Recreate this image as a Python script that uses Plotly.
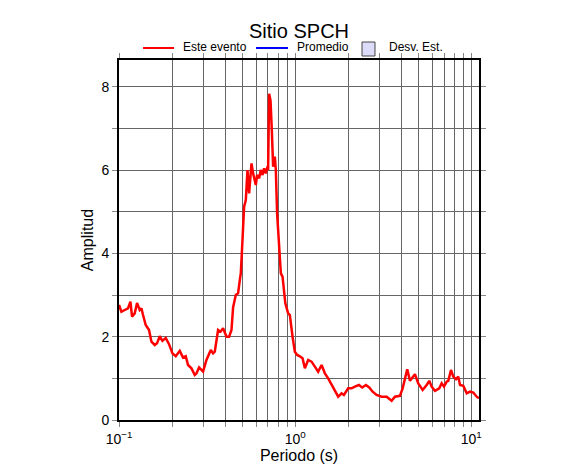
import numpy as np
import plotly.graph_objects as go

# Este evento: period (s) and amplitude
periodo = [0.100, 0.1032, 0.1078, 0.1125, 0.1161, 0.1186, 0.1228, 0.1266, 0.1311, 0.1341,
           0.1369, 0.1418, 0.1481, 0.1528, 0.1596, 0.1644, 0.1703, 0.1764, 0.1842, 0.1923,
           0.2011, 0.2100, 0.2213, 0.2310, 0.2393, 0.2466, 0.2578, 0.2693, 0.2754, 0.2848,
           0.3001, 0.3137, 0.3319, 0.3421, 0.3498, 0.3652, 0.3769, 0.3899, 0.4076, 0.4217,
           0.4351, 0.4443, 0.4603, 0.4743, 0.4851, 0.4915, 0.5024, 0.5131, 0.5247, 0.5364,
           0.5478, 0.5580, 0.5653, 0.5772, 0.5980, 0.6083, 0.6244, 0.6384, 0.6528, 0.6666,
           0.6815, 0.6969, 0.7023, 0.7116, 0.7247, 0.7372, 0.7499, 0.7668, 0.7769, 0.7901,
           0.8111, 0.8294, 0.8480, 0.8660, 0.8797, 0.9125, 0.9330, 0.9665, 0.9961, 1.0266,
           1.0634, 1.1016, 1.1353, 1.1855, 1.2393, 1.2940, 1.3511, 1.4125, 1.4750, 1.5399,
           1.6099, 1.6812, 1.7555, 1.8352, 1.8914, 2.0006, 2.0919, 2.1841, 2.3012, 2.4030,
           2.5217, 2.6332, 2.7530, 2.9007, 3.0968, 3.3064, 3.5295, 3.6857, 3.9346, 4.0756,
           4.2006, 4.3293, 4.4846, 4.6452, 4.7876, 4.9990, 5.2954, 5.5797, 5.7733, 5.9566,
           6.2206, 6.5804, 6.7900, 6.9982, 7.2491, 7.4025, 7.6696, 7.9035, 8.1885, 8.4378,
           8.6285, 9.0090, 9.4195, 9.8311, 10.266, 10.733, 11.06]
amplitud = [2.76, 2.60, 2.64, 2.68, 2.84, 2.48, 2.56, 2.81, 2.64, 2.68,
            2.52, 2.28, 2.16, 1.88, 1.80, 1.84, 2.01, 1.90, 1.97, 1.82,
            1.60, 1.53, 1.66, 1.50, 1.53, 1.32, 1.24, 1.08, 1.12, 1.26,
            1.16, 1.44, 1.68, 1.60, 1.64, 2.16, 2.12, 2.20, 2.00, 2.00,
            2.16, 2.70, 3.00, 3.04, 3.36, 3.52, 4.32, 5.12, 5.28, 6.00,
            5.44, 5.92, 6.16, 5.92, 5.64, 5.88, 5.80, 6.00, 5.88, 6.04,
            5.92, 6.08, 6.00, 7.83, 7.67, 6.95, 6.08, 6.32, 6.00, 4.95,
            4.00, 3.52, 3.44, 3.04, 2.80, 2.56, 2.52, 2.00, 1.64, 1.56,
            1.53, 1.48, 1.24, 1.44, 1.40, 1.28, 1.16, 1.32, 1.12, 1.00,
            0.84, 0.68, 0.56, 0.64, 0.60, 0.76, 0.76, 0.80, 0.84, 0.78,
            0.84, 0.78, 0.68, 0.60, 0.56, 0.56, 0.46, 0.56, 0.58, 0.76,
            0.96, 1.22, 0.94, 1.04, 1.10, 0.88, 0.72, 0.84, 0.94, 0.80,
            0.70, 0.76, 0.88, 0.80, 0.92, 0.94, 1.20, 1.04, 0.98, 1.04,
            0.84, 0.82, 0.64, 0.68, 0.66, 0.56, 0.52]

legend_labels = ["Este evento", "Promedio", "Desv. Est."]

x_tickvals = [m * 10.0 ** e for e in (-1, 0, 1) for m in range(1, 10)]
x_tickvals = [v for v in x_tickvals if v <= 11]
decade_labels = {0.1: "10<sup>−1</sup>", 1.0: "10<sup>0</sup>", 10.0: "10<sup>1</sup>"}
x_ticktext = []
for v in x_tickvals:
    lab = ""
    for k, t in decade_labels.items():
        if abs(v - k) < 1e-9:
            lab = t
    x_ticktext.append(lab)

y_tickvals = list(range(0, 9))
y_ticktext = [str(v) if v % 2 == 0 else "" for v in y_tickvals]

FONT = "Liberation Sans, Arial, Helvetica, sans-serif"

fig = go.Figure()
fig.add_trace(go.Scatter(x=periodo, y=amplitud, mode="lines", name=legend_labels[0],
                         line=dict(color="#ff0000", width=2.5), showlegend=False))

axis_common = dict(showline=True, linecolor="black", linewidth=2, mirror="allticks",
                   ticks="outside", ticklen=5, tickcolor="#888888", tickwidth=1,
                   showgrid=True, gridcolor="#666666", gridwidth=1, zeroline=False,
                   tickfont=dict(family=FONT, size=14, color="black"))

# manual legend (paper coords relative to plot area)
shapes = [
    dict(type="line", xref="paper", yref="paper", x0=0.0667, x1=0.1528, y0=1.0333, y1=1.0333,
         line=dict(color="#ff0000", width=2)),
    dict(type="line", xref="paper", yref="paper", x0=0.3806, x1=0.4694, y0=1.0333, y1=1.0333,
         line=dict(color="#0000ff", width=2)),
    dict(type="rect", xref="paper", yref="paper", x0=0.6750, x1=0.7111, y0=1.0111, y1=1.0500,
         fillcolor="#dcdcfa", line=dict(color="#444444", width=1)),
]
annotations = [
    dict(text=legend_labels[0], xref="paper", yref="paper", x=0.1722, y=1.0361,
         xanchor="left", yanchor="middle", showarrow=False,
         font=dict(family=FONT, size=12, color="black")),
    dict(text=legend_labels[1], xref="paper", yref="paper", x=0.4889, y=1.0361,
         xanchor="left", yanchor="middle", showarrow=False,
         font=dict(family=FONT, size=12, color="black")),
    dict(text=legend_labels[2], xref="paper", yref="paper", x=0.7444, y=1.0361,
         xanchor="left", yanchor="middle", showarrow=False,
         font=dict(family=FONT, size=12, color="black")),
]

fig.update_layout(
    width=586, height=475,
    margin=dict(l=111, r=115, t=52, b=63, autoexpand=False),
    paper_bgcolor="white", plot_bgcolor="white",
    title=dict(text="Sitio SPCH", x=(299 - 8) / 586, xanchor="center",
               y=1 - (31 - 8) / 475, yanchor="middle",
               font=dict(family=FONT, size=20, color="black")),
    shapes=shapes,
    annotations=annotations,
    xaxis=dict(type="log", range=[-1, np.log10(11.06)], tickvals=x_tickvals, ticktext=x_ticktext,
               title=dict(text="Periodo (s)", font=dict(family=FONT, size=16, color="black"), standoff=4),
               automargin=False, **axis_common),
    yaxis=dict(range=[0, 8.64], tickvals=y_tickvals, ticktext=y_ticktext,
               title=dict(text="Amplitud", font=dict(family=FONT, size=16, color="black"), standoff=4),
               automargin=False, **axis_common),
    showlegend=False,
)

fig.write_html("out.html")
